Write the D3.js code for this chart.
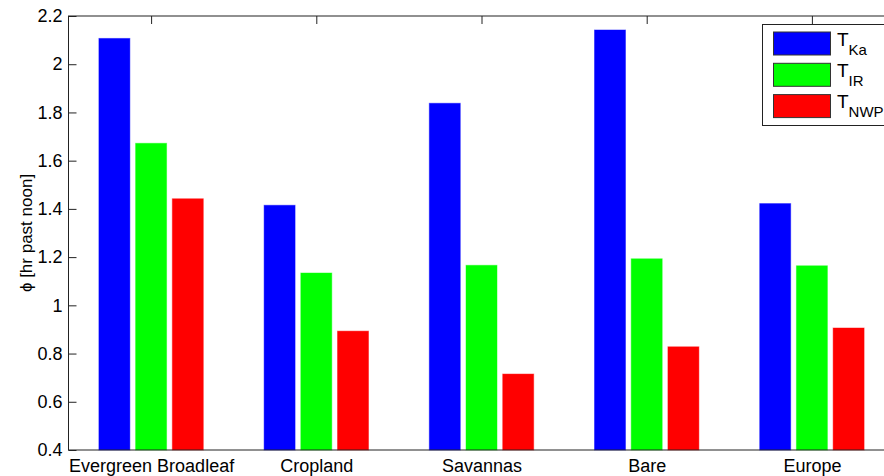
<!DOCTYPE html>
<html>
<head>
<meta charset="utf-8">
<script src="https://cdn.jsdelivr.net/npm/d3@7"></script>
<style>
  html, body { margin: 0; padding: 0; background: #fff; overflow: hidden; }
  svg { display: block; font-family: "Liberation Sans", Arial, sans-serif; }
</style>
</head>
<body>
<svg id="chart"></svg>
<script>
const categories = ["Evergreen Broadleaf", "Cropland", "Savannas", "Bare", "Europe"];
const tKa  = [2.107, 1.415, 1.838, 2.142, 1.422];
const tIR  = [1.672, 1.134, 1.166, 1.193, 1.164];
const tNWP = [1.442, 0.893, 0.715, 0.828, 0.906];
const seriesNames = [["T", "Ka"], ["T", "IR"], ["T", "NWP"]];
const seriesColors = ["#0000ff", "#00ff00", "#ff0000"];
const yTicks = [0.4, 0.6, 0.8, 1, 1.2, 1.4, 1.6, 1.8, 2, 2.2];

const W = 884, H = 476;
const svg = d3.select("#chart").attr("width", W).attr("height", H);

// matlab style axes: x from 0.5 to 5.5, right edge falls off the window
const x = d3.scaleLinear().domain([0.5, 5.5]).range([68.5, 894.5]);
const y = d3.scaleLinear().domain([0.4, 2.2]).range([450, 16]);
const idx = categories.map((c, i) => i + 1);

const series = [tKa, tIR, tNWP];
const step = 0.2222, barW = 0.1875;

// ticks (under the bars)
const gy = svg.append("g").attr("transform", `translate(${x(0.5)},0)`)
    .call(d3.axisLeft(y).tickValues(yTicks).tickSize(-8).tickPadding(6)
        .tickFormat(d => String(+d.toFixed(1))));
gy.select(".domain").remove();
gy.selectAll("line").attr("stroke", "#222");
gy.selectAll("text").style("font-size", "18px").attr("fill", "#000");

const gx = svg.append("g").attr("transform", `translate(0,${y(0.4)})`)
    .call(d3.axisBottom(x).tickValues(idx).tickSize(-8).tickPadding(9)
        .tickFormat((d, i) => categories[i]));
gx.select(".domain").remove();
gx.selectAll("line").attr("stroke", "#222");
gx.selectAll("text").style("font-size", "18px").attr("fill", "#000");

const gt = svg.append("g").attr("transform", `translate(0,${y(2.2)})`)
    .call(d3.axisTop(x).tickValues(idx).tickSize(-8).tickFormat(""));
gt.select(".domain").remove();
gt.selectAll("line").attr("stroke", "#222");

// bars
series.forEach((vals, s) => {
    svg.append("g").selectAll("rect")
        .data(vals)
        .enter().append("rect")
        .attr("x", (d, i) => x(idx[i] + (s - 1) * step - barW / 2))
        .attr("width", x(barW) - x(0))
        .attr("y", d => y(d))
        .attr("height", d => y(0.4) - y(d))
        .attr("fill", seriesColors[s])
        .attr("stroke", seriesColors[s])
        .attr("stroke-opacity", 0.45)
        .attr("stroke-width", 1);
});

// axes box
svg.append("rect")
    .attr("x", x(0.5)).attr("y", y(2.2))
    .attr("width", x(5.5) - x(0.5)).attr("height", y(0.4) - y(2.2))
    .attr("fill", "none").attr("stroke", "#222").attr("stroke-width", 1);

// y label
svg.append("text")
    .attr("transform", `translate(32,${(y(0.4) + y(2.2)) / 2}) rotate(-90)`)
    .attr("text-anchor", "middle")
    .style("font-size", "17px")
    .text("\u03d5 [hr past noon]");

// legend
const lg = svg.append("g");
lg.append("rect")
    .attr("x", 762.5).attr("y", 24.5).attr("width", 140).attr("height", 101)
    .attr("fill", "#fff").attr("stroke", "#222");
seriesNames.forEach((nm, s) => {
    const cy = 43.5 + s * 31.3;
    lg.append("rect")
        .attr("x", 773.5).attr("y", cy - 11.5).attr("width", 57).attr("height", 23)
        .attr("fill", seriesColors[s]).attr("stroke", "#333");
    const t = lg.append("text").attr("x", 837).attr("y", cy + 2).style("font-size", "19px");
    t.append("tspan").text(nm[0]);
    t.append("tspan").attr("dy", 9).style("font-size", "15px").text(nm[1]);
});
</script>
</body>
</html>
